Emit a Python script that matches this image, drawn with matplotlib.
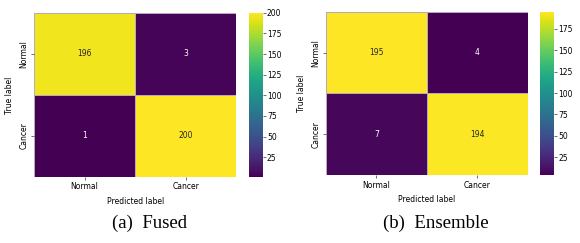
import numpy as np
import matplotlib
matplotlib.use("Agg")
import matplotlib.pyplot as plt
import seaborn as sns

# confusion matrices
labels = ["Normal", "Cancer"]
fused = [[196, 3],
         [1, 200]]
ensemble = [[195, 4],
            [7, 194]]
captions = ["(a)  Fused", "(b)  Ensemble"]
cbar_ticks = [[25, 50, 75, 100, 125, 150, 175, 200],
              [25, 50, 75, 100, 125, 150, 175]]

fig = plt.figure(figsize=(5.8, 2.43), dpi=100)

# axes placement: heatmap box, colorbar box, caption x for each panel
boxes = [
    ([0.059, 0.272, 0.348, 0.675], [0.429, 0.272, 0.024, 0.675], 0.257),
    ([0.562, 0.280, 0.348, 0.671], [0.931, 0.280, 0.024, 0.671], 0.752),
]

fs = 5.5
for cm, cap, ticks, (hbox, cbox, capx) in zip([fused, ensemble], captions, cbar_ticks, boxes):
    ax = fig.add_axes(hbox)
    cax = fig.add_axes(cbox)
    cm = np.array(cm)
    sns.heatmap(cm, annot=True, fmt="d", cmap="viridis", ax=ax, cbar_ax=cax,
                xticklabels=labels, yticklabels=labels,
                linewidths=0.4, linecolor="#b9a9bd",
                annot_kws={"fontsize": fs})
    ax.set_xlabel("Predicted label", fontsize=fs)
    ax.set_ylabel("True label", fontsize=fs)
    ax.tick_params(labelsize=fs, length=2, width=0.4, pad=2)
    ax.set_yticklabels(labels, rotation=90, va="center")
    cax.set_yticks(ticks)
    cax.tick_params(labelsize=fs, length=2, width=0.4, pad=1)
    for s in cax.spines.values():
        s.set_visible(False)
    fig.text(capx, 0.08, cap, ha="center", va="center",
             family="Liberation Serif", fontsize=13.5)

fig.savefig("out.png", dpi=100)
